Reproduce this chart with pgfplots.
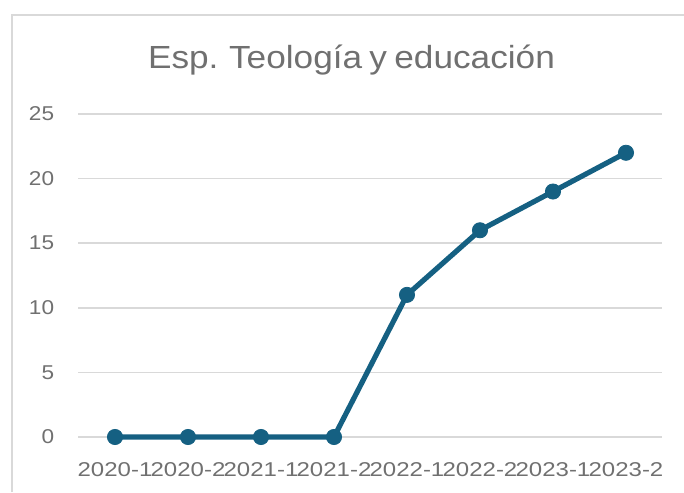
\documentclass[border=0pt]{standalone}
\usepackage{fontspec}
\setmainfont{Liberation Sans}
\newfontfamily\titlefont[FakeStretch=1.1, WordSpace=0.75]{Liberation Sans}
\newfontfamily\tickfont[FakeStretch=1.13]{Liberation Sans}
\newfontfamily\xtickfont[FakeStretch=1.2]{Liberation Sans}
\usepackage{pgfplots}
\pgfplotsset{compat=1.18}
\definecolor{linecol}{HTML}{156082}
\definecolor{gridcol}{HTML}{D9D9D9}
\definecolor{txtcol}{HTML}{707070}

\begin{document}
\begin{tikzpicture}
\useasboundingbox (0,0) rectangle (342pt,246pt);
% chart frame (cut off right and bottom)
\draw[gridcol, line width=0.75pt] (6pt,0) -- (6pt,238.5pt) -- (343pt,238.5pt);
\node[font=\titlefont\fontsize{16pt}{19pt}\selectfont, text=txtcol, anchor=base, inner sep=0pt]
  at (175.75pt,211.5pt) {Esp. Teología y educación};
\begin{axis}[
  at={(39.25pt,27.5pt)}, anchor=south west,
  scale only axis, width=292pt, height=161.5pt,
  xmin=-0.5, xmax=7.5, ymin=0, ymax=25,
  xtick={0,...,7},
  xticklabels={2020-1,2020-2,2021-1,2021-2,2022-1,2022-2,2023-1,2023-2},
  ytick={0,5,...,25},
  axis line style={draw=none},
  major tick length=0pt,
  ymajorgrids, grid style={gridcol, line width=0.75pt},
  /pgf/number format/assume math mode=true,
  tick label style={font=\tickfont\fontsize{10pt}{12pt}\selectfont, text=txtcol, inner sep=0pt},
  xticklabel style={anchor=north, font=\xtickfont\fontsize{10pt}{12pt}\selectfont}, xticklabel shift=12.5pt,
  yticklabel style={anchor=east}, yticklabel shift=12pt,
  clip=false,
]
\addplot[linecol, line width=2.6pt, mark=*, mark size=3.8pt, mark options={fill=linecol, draw=linecol, line width=0.4pt}]
  coordinates {(0,0) (1,0) (2,0) (3,0) (4,11) (5,16) (6,19) (7,22)};
\end{axis}
\end{tikzpicture}
\end{document}
